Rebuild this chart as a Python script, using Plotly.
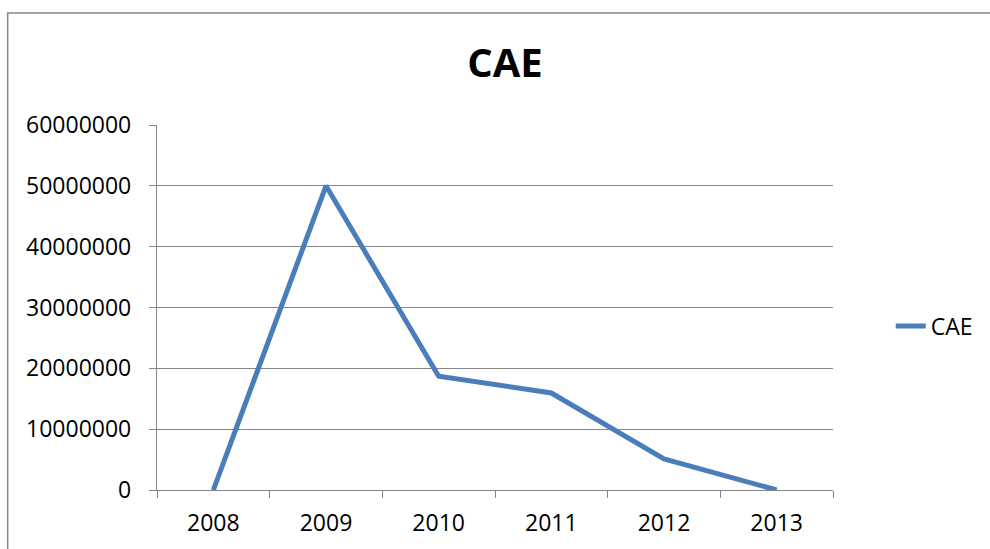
import plotly.graph_objects as go

years = ["2008", "2009", "2010", "2011", "2012", "2013"]
cae = [0, 50000000, 18700000, 15950000, 5100000, 0]

GRID = "#868686"
LINE = "#4a7ebb"
FONT = "Open Sans"

fig = go.Figure(
    data=[go.Scatter(x=years, y=cae, mode="lines", name="CAE",
                     line=dict(color=LINE, width=5))]
)

# plot area: x 157..836, y 125..490 (pixels)
L, R, T, B = 157, 836, 125, 490
W, H = 990, 549


def px_x(p):
    return (p - L) / (R - L)


def px_y(p):
    return (B - p) / (B - T)


fig.update_layout(
    width=W, height=H,
    margin=dict(l=L, r=W - R, t=T, b=H - B),
    paper_bgcolor="white",
    plot_bgcolor="white",
    font=dict(family=FONT, size=23, color="black"),
    title=dict(text="<b>CAE</b>", x=505 / W, xanchor="center",
               y=1 - 63 / H, yanchor="middle",
               font=dict(family=FONT, size=40, color="black")),
    showlegend=True,
    legend=dict(x=px_x(894), xanchor="left", y=px_y(326), yanchor="middle",
                font=dict(family=FONT, size=23), bgcolor="rgba(0,0,0,0)"),
    shapes=[dict(type="rect", xref="paper", yref="paper",
                 x0=px_x(7), x1=px_x(1010), y0=px_y(570), y1=px_y(13),
                 line=dict(color=GRID, width=1.5), layer="below")],
)

fig.update_xaxes(
    type="category", range=[-0.5, 5.5], tickson="boundaries",
    ticks="outside", ticklen=7, tickcolor=GRID, tickwidth=1.3,
    showgrid=False, showline=True, linecolor=GRID, linewidth=1.3,
    tickfont=dict(family=FONT, size=23), ticklabelstandoff=12,
)
fig.update_yaxes(
    range=[0, 60000000], dtick=10000000, tickformat="d",
    ticks="outside", ticklen=7, tickcolor=GRID, tickwidth=1.3,
    showgrid=True, gridcolor=GRID, gridwidth=1.3,
    showline=True, linecolor=GRID, linewidth=1.3,
    zeroline=False, tickfont=dict(family=FONT, size=23), ticklabelstandoff=13,
)

fig.write_html("out.html", config={"displayModeBar": False},
               post_script="document.body.style.margin='0';")
